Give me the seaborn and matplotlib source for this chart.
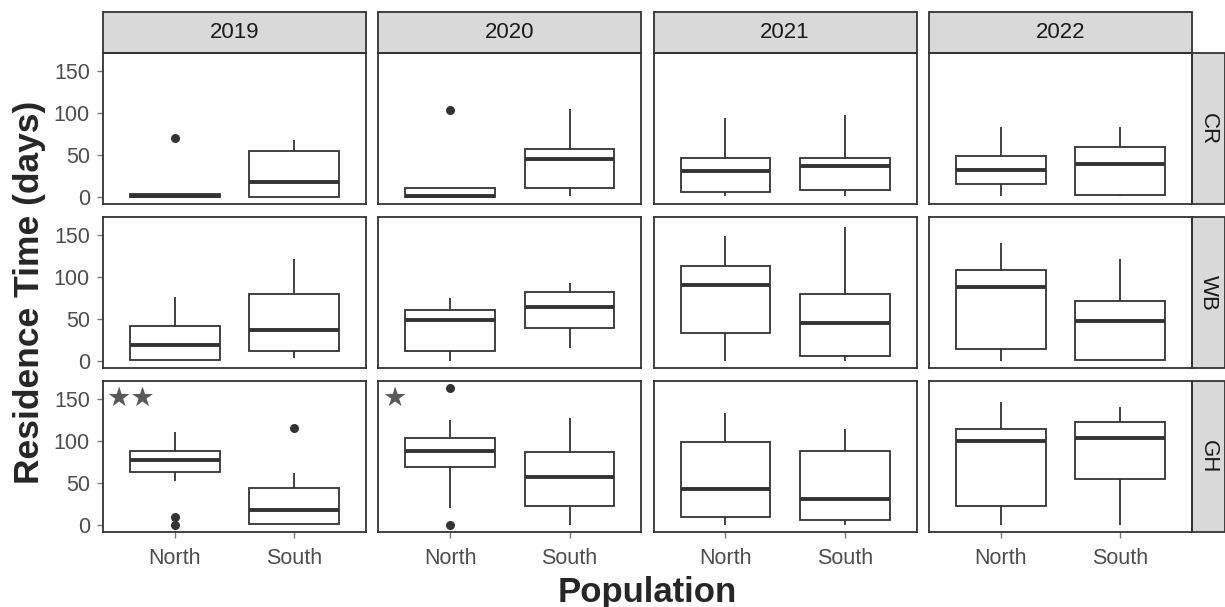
import pandas as pd
import seaborn as sns
import matplotlib.pyplot as plt
from matplotlib.patches import Rectangle

years = ['2019', '2020', '2021', '2022']
sites = ['CR', 'WB', 'GH']
pops = ['North', 'South']

# five-number summaries: [whisker low, Q1, median, Q3, whisker high], one per year
cr_north = [[0, 0, 2, 4, 4], [0, 0, 2, 10.7, 10.7], [1.5, 6, 31, 46.7, 93.8], [1.5, 15.4, 32.8, 49, 83]]
cr_south = [[0, 0, 18, 55, 68], [1.5, 10.7, 45.5, 57.4, 104.5], [1.5, 8.3, 37.5, 46.7, 97.7], [2, 2.4, 39.5, 59.7, 83]]
wb_north = [[2, 2, 20, 41.8, 76.8], [0.8, 12.8, 49.4, 61.3, 74.8], [0.8, 33.9, 90.3, 112.6, 149.2], [0.8, 14.3, 88.3, 107.9, 140.5]]
wb_south = [[3.6, 12.8, 37, 80.4, 121.4], [15.5, 39.9, 64.4, 82.3, 93.5], [0.8, 6, 45.3, 80.4, 159.5], [2, 2, 47.4, 71.6, 121.7]]
gh_north = [[52.2, 63.3, 77.6, 88.3, 110.3], [20.6, 69.3, 87.8, 103.2, 125], [0.8, 10.3, 43.5, 99.3, 133.7], [0.8, 23, 100.1, 113.9, 145.9]]
gh_south = [[1.6, 1.6, 17.8, 44.4, 61.7], [0.8, 23, 57.8, 87, 126.9], [0.8, 6.4, 30.8, 88.6, 114.4], [0.8, 55, 104, 122.7, 140]]

# outliers
out_site = ['CR', 'CR', 'GH', 'GH', 'GH', 'GH', 'GH']
out_year = ['2019', '2020', '2019', '2019', '2019', '2020', '2020']
out_pop = ['North', 'North', 'North', 'North', 'South', 'North', 'North']
out_days = [70, 103.7, 9.5, 0.5, 115.9, 163, 0]

# significance stars (GH row)
star_year = ['2019', '2020']
star_text = ['★★', '★']

summaries = {'CR': (cr_north, cr_south), 'WB': (wb_north, wb_south), 'GH': (gh_north, gh_south)}
records = []
for site in sites:
    for pop, per_year in zip(pops, summaries[site]):
        for yr, vals in zip(years, per_year):
            for v in vals:
                records.append((site, yr, pop, v))
box_df = pd.DataFrame(records, columns=['site', 'year', 'population', 'days'])
out_df = pd.DataFrame({'site': out_site, 'year': out_year, 'population': out_pop, 'days': out_days})

sns.set_style('ticks')
plt.rcParams['font.family'] = ['Liberation Sans', 'DejaVu Sans']

line_col = '#333333'
fig, axes = plt.subplots(3, 4, figsize=(12.25, 6.07), dpi=100, sharex=True, sharey=True)
fig.subplots_adjust(left=0.0841, right=0.973, top=0.9127, bottom=0.123, wspace=0.047, hspace=0.0825)

strip_h = 41 / 151.5
strip_w = 33 / 263

for i, site in enumerate(sites):
    for j, yr in enumerate(years):
        ax = axes[i, j]
        sub = box_df[(box_df.site == site) & (box_df.year == yr)]
        sns.boxplot(data=sub, x='population', y='days', order=pops, whis=(0, 100), width=0.75,
                    color='white', linecolor=line_col, linewidth=1.3,
                    medianprops=dict(color=line_col, linewidth=2.8),
                    capprops=dict(visible=False), ax=ax)
        o = out_df[(out_df.site == site) & (out_df.year == yr)]
        if len(o):
            sns.stripplot(data=o, x='population', y='days', order=pops, jitter=False,
                          color=line_col, size=6.5, linewidth=0, ax=ax)
        ax.set_xlim(-0.6, 1.6)
        ax.set_ylim(-8.3, 171.3)
        ax.set_yticks([0, 50, 100, 150])
        ax.set_xticks([0, 1])
        ax.set_xlabel('')
        ax.set_ylabel('')
        for sp in ax.spines.values():
            sp.set_visible(True)
            sp.set_color(line_col)
            sp.set_linewidth(1.3)
        ax.tick_params(length=4, width=1, color='#777777', labelsize=15.5, labelcolor='#4D4D4D',
                       left=(j == 0), labelleft=(j == 0), bottom=(i == 2), labelbottom=(i == 2))
        ax.tick_params(axis='y', pad=5.5)
        ax.tick_params(axis='x', pad=7.5)
        if i == 2:
            ax.set_xticklabels(pops)

        # strips
        if i == 0:
            ax.add_patch(Rectangle((0, 1), 1, strip_h, transform=ax.transAxes, clip_on=False,
                                   facecolor='#D9D9D9', edgecolor=line_col, linewidth=1.3))
            ax.text(0.5, 1 + strip_h / 2, yr, transform=ax.transAxes, ha='center', va='center',
                    fontsize=16, color='#1A1A1A')
        if j == 3:
            ax.add_patch(Rectangle((1, 0), strip_w, 1, transform=ax.transAxes, clip_on=False,
                                   facecolor='#D9D9D9', edgecolor=line_col, linewidth=1.3))
            ax.text(1 + strip_w / 2, 0.5, site, transform=ax.transAxes, ha='center', va='center',
                    rotation=270, fontsize=16, color='#1A1A1A')

        if site == 'GH' and yr in star_year:
            ax.text(-0.57, 150, star_text[star_year.index(yr)], ha='left', va='center',
                    fontsize=19.5, color='#595959', family=['DejaVu Sans'])

fig.text(0.5286, 0.009, 'Population', ha='center', va='baseline', fontsize=25, fontweight='bold')
fig.text(0.024, 0.519, 'Residence Time (days)', ha='center', va='center', rotation=90,
         fontsize=25.5, fontweight='bold')

fig.savefig('out.png', dpi=100)
